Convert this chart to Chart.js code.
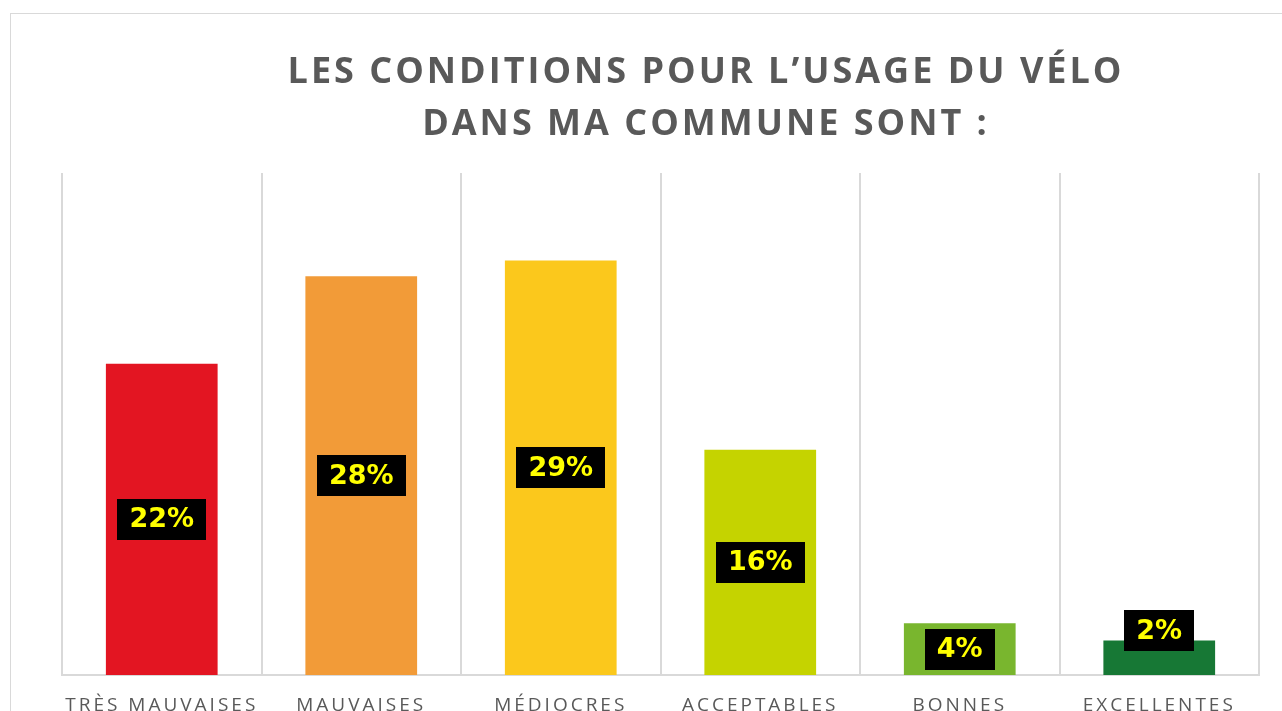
<!DOCTYPE html>
<html>
<head>
<meta charset="utf-8">
<script src="https://cdn.jsdelivr.net/npm/chart.js@4.4.1/dist/chart.umd.min.js"></script>
<style>
	html, body { margin: 0; padding: 0; background: #fff; overflow: hidden; width: 1282px; height: 711px; }
	#frame { position: absolute; left: 10px; top: 13px; width: 1400px; height: 760px; border: 1px solid #d9d9d9; }
	#wrap { position: absolute; left: 0; top: 0; width: 1412px; height: 740px; }
</style>
</head>
<body>
<div id="frame"></div>
<div id="wrap"><canvas id="velo"></canvas></div>
<script>
	// Data
	let categories = ['TRÈS MAUVAISES', 'MAUVAISES', 'MÉDIOCRES', 'ACCEPTABLES', 'BONNES', 'EXCELLENTES'];
	let shares = [21.7, 27.8, 28.9, 15.7, 3.6, 2.4];
	let barColors = ['#e31522', '#f29b38', '#fbc81c', '#c5d300', '#79b62e', '#177835'];
	let titleLines = ['LES CONDITIONS POUR L\u2019USAGE DU VÉLO', 'DANS MA COMMUNE SONT :'];

	const GRAY = '#595959';
	const GRID = '#d9d9d9';

	// letter spacing for the axis labels (canvas state)
	const spacingPlugin = {
		id: 'spacing',
		beforeDraw(chart) {
			chart.ctx.letterSpacing = '3px';
		},
		afterDraw(chart) {
			chart.ctx.letterSpacing = '0px';
		}
	};

	// title drawn by hand so it can be letter spaced
	const titlePlugin = {
		id: 'bigTitle',
		afterDraw(chart) {
			let ctx = chart.ctx;
			ctx.save();
			ctx.letterSpacing = '3px';
			ctx.font = 'bold 36px "Open Sans"';
			ctx.fillStyle = GRAY;
			ctx.textAlign = 'center';
			ctx.textBaseline = 'middle';
			titleLines.forEach((line, i) => {
				ctx.fillText(line, 706, 73 + i * 52);
			});
			ctx.restore();
		}
	};

	// black boxes with yellow percentages
	const labelPlugin = {
		id: 'boxLabels',
		afterDatasetsDraw(chart) {
			let ctx = chart.ctx;
			let meta = chart.getDatasetMeta(0);
			ctx.save();
			ctx.letterSpacing = '0px';
			ctx.font = 'bold 27px "DejaVu Sans"';
			ctx.textAlign = 'center';
			ctx.textBaseline = 'middle';
			meta.data.forEach((bar, i) => {
				let text = Math.round(shares[i]) + '%';
				let w = ctx.measureText(text).width + 24;
				let h = 41;
				let barH = bar.base - bar.y;
				let cy = barH < h ? bar.y - 10 : (bar.y + bar.base) / 2;
				ctx.fillStyle = '#000';
				ctx.fillRect(Math.round(bar.x - w / 2), Math.round(cy - h / 2), Math.round(w), h);
				ctx.fillStyle = '#ffff00';
				ctx.fillText(text, bar.x, cy + 1);
			});
			ctx.restore();
		}
	};

	const ctx = document.getElementById('velo').getContext('2d');
	const veloChart = new Chart(ctx, {
		type: 'bar',
		data: {
			labels: categories,
			datasets: [{
				data: shares,
				backgroundColor: barColors,
				borderWidth: 0,
				categoryPercentage: 1,
				barPercentage: 0.56
			}]
		},
		options: {
			responsive: true,
			maintainAspectRatio: false,
			animation: false,
			layout: {
				padding: { left: 62, right: 153, top: 173, bottom: 0 }
			},
			plugins: {
				legend: { display: false },
				tooltip: { enabled: false },
				title: { display: false }
			},
			scales: {
				x: {
					afterFit: (scale) => { scale.height = 65; },
					grid: {
						display: true,
						offset: true,
						color: GRID,
						lineWidth: 2,
						drawTicks: false
					},
					border: { display: true, color: GRID, width: 2 },
					ticks: {
						color: GRAY,
						font: { family: '"Open Sans"', size: 19 },
						padding: 19,
						maxRotation: 0,
						autoSkip: false
					}
				},
				y: {
					display: false,
					min: 0,
					max: 35
				}
			}
		},
		plugins: [spacingPlugin, titlePlugin, labelPlugin]
	});
</script>
</body>
</html>
